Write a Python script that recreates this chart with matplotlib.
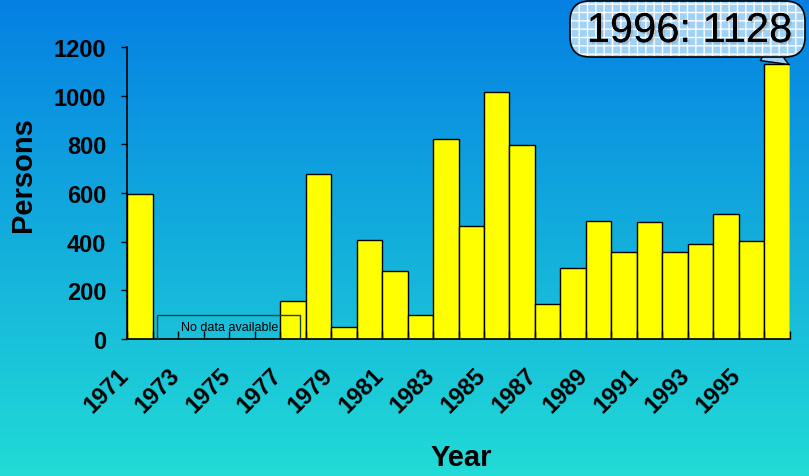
import numpy as np
import matplotlib.pyplot as plt
import matplotlib.patheffects as pe
import matplotlib.transforms as mtransforms
from matplotlib.patches import Rectangle, FancyBboxPatch

plt.rcParams['font.family'] = ['Liberation Sans', 'DejaVu Sans']

years = list(range(1971, 1997))
persons = [595, 0, 0, 0, 0, 0, 155, 678, 48, 405, 278, 98, 820, 464, 1015,
           796, 143, 294, 485, 356, 481, 356, 390, 512, 402, 1128]
label_years = [str(y) for y in years[::2]]
callout_text = "1996: 1128"
no_data_text = "No data available"

fig = plt.figure(figsize=(8.09, 4.77), dpi=100)

# background gradient, blue at the top to cyan at the bottom
bg = fig.add_axes([0, 0, 1, 1], zorder=-10)
top = np.array([0.02, 0.50, 0.89])
bottom = np.array([0.13, 0.86, 0.84])
t = np.linspace(0, 1, 256)[:, None]
grad = top * (1 - t) + bottom * t
bg.imshow(grad[:, None, :], aspect='auto', extent=[0, 1, 0, 1])
bg.axis('off')

ax = fig.add_axes([0.157, 0.287, 0.8195, 0.6125])
ax.patch.set_alpha(0)
x = np.arange(len(years))
ax.bar(x, persons, width=1.0, color='#ffff00', edgecolor='black', linewidth=1)

ax.set_xlim(-0.5, len(years) - 0.5)
ax.set_ylim(0, 1200)
ax.set_yticks(range(0, 1201, 200))
ax.tick_params(axis='y', direction='out', length=4, width=1, labelsize=17, pad=11)
for lab in ax.get_yticklabels():
    lab.set_fontweight('bold')

ax.set_xticks(x[::2])
ax.set_xticklabels(label_years, rotation=45, ha='right', rotation_mode='anchor',
                   fontsize=17, fontweight='bold')
ax.tick_params(axis='x', which='major', length=0, pad=17)
shift = mtransforms.ScaledTranslation(-0.23, 0, fig.dpi_scale_trans)
for lab in ax.get_xticklabels():
    lab.set_transform(lab.get_transform() + shift)
ax.set_xticks(np.arange(len(years) + 1) - 0.5, minor=True)
ax.tick_params(axis='x', which='minor', direction='in', length=6, width=1)

for s in ['top', 'right']:
    ax.spines[s].set_visible(False)
for s in ['left', 'bottom']:
    ax.spines[s].set_linewidth(1.2)

fig.text(0.029, 0.633, 'Persons', fontsize=21, fontweight='bold', rotation=90,
         ha='center', va='center')
fig.text(0.57, 0.04, 'Year', fontsize=21, fontweight='bold', ha='center', va='center')

# no data box
ax.add_patch(Rectangle((0.68, -4), 5.6, 103, fill=False, edgecolor='#15454a',
                       linewidth=1, zorder=5))
ax.text(1.6, 48, no_data_text, fontsize=9, va='center', ha='left', zorder=6)

# callout for the last bar (box laid out in inches)
box_x0, box_y0, box_w, box_h = 5.70, 4.19, 2.35, 0.56
ax.annotate('', xy=(25.45, 1128), xycoords='data',
            xytext=(7.66, box_y0 + 0.06), textcoords=fig.dpi_scale_trans,
            arrowprops=dict(arrowstyle='wedge,tail_width=1.6,shrink_factor=0.5',
                            fc='#9fd2f6', ec='black', lw=1,
                            shrinkA=0, shrinkB=0),
            zorder=9, annotation_clip=False)
fig.patches.append(FancyBboxPatch((box_x0, box_y0), box_w, box_h,
                                  boxstyle='round,pad=0,rounding_size=0.2',
                                  transform=fig.dpi_scale_trans, fc='#9fd2f6',
                                  ec='white', lw=0, hatch='++', zorder=10))
fig.patches.append(FancyBboxPatch((box_x0, box_y0), box_w, box_h,
                                  boxstyle='round,pad=0,rounding_size=0.2',
                                  transform=fig.dpi_scale_trans, fc='none',
                                  ec='black', lw=1.2, zorder=11))
fig.text(box_x0 + box_w / 2 + 0.02, box_y0 + box_h / 2 - 0.02, callout_text,
         transform=fig.dpi_scale_trans, fontsize=30, ha='center', va='center',
         color='black', zorder=12,
         path_effects=[pe.withSimplePatchShadow(offset=(1.5, -1.5),
                                                shadow_rgbFace='gray'),
                       pe.Normal()])

fig.savefig('out.png', dpi=100)
